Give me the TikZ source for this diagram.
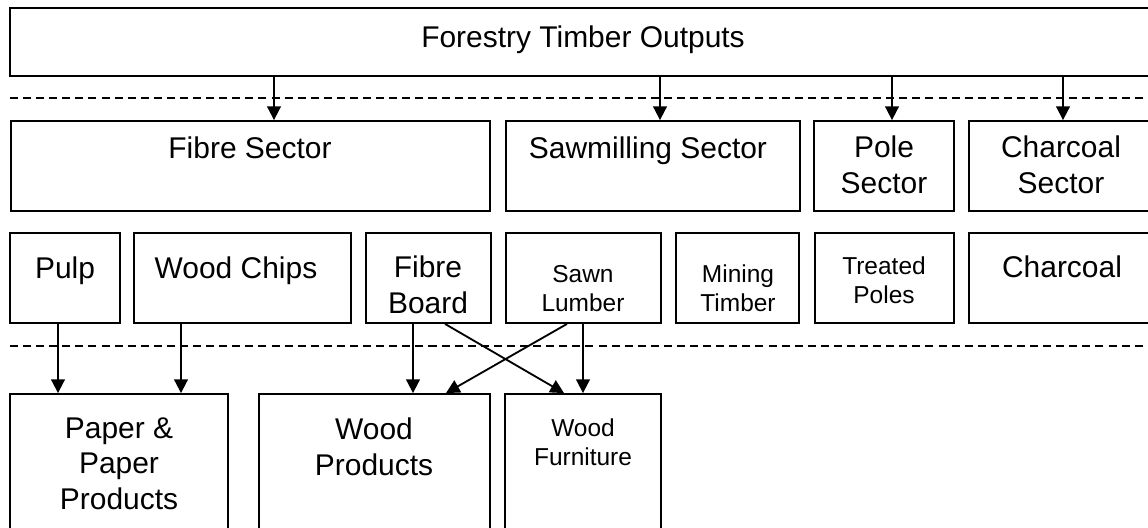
\documentclass[tikz,border=0pt]{standalone}
\usepackage{fontspec}
\setmainfont{Liberation Sans}
\usetikzlibrary{arrows.meta,fit}

\begin{document}
\begin{tikzpicture}[x=0.025cm, y=-0.025cm, line width=1.3pt,
	box/.style={draw, inner sep=0pt},
	big/.style={font=\fontsize{21.3pt}{24.9pt}\selectfont, align=center, anchor=base},
	small/.style={font=\fontsize{17.4pt}{20.6pt}\selectfont, align=center, anchor=base},
	flow/.style={-{Triangle[length=3.4mm,width=3.4mm]}},
	sep/.style={dash pattern=on 5.7pt off 3.6pt}]
	\clip (0,0) rectangle (1148,527);
	% timber outputs
	\node[box, fit={(10,8) (1156,76)}] (outputs) {};
	\node[big] at (583,47) {Forestry Timber Outputs};
	\draw[sep] (10,98) -- (1160,98);
	% sectors
	\node[box, fit={(11,121) (490,211)}] (fibre) {};
	\node[big] at (250,158) {Fibre Sector};
	\node[box, fit={(506,121) (800,211)}] (sawmill) {};
	\node[big] at (648,158) {Sawmilling Sector};
	\node[box, fit={(814,121) (954,211)}] (pole) {};
	\node[big] at (884,193) {Pole\\Sector};
	\node[box, fit={(969,121) (1153,211)}] (charsec) {};
	\node[big] at (1061,193) {Charcoal\\Sector};
	% products
	\node[box, fit={(10,233) (120,323)}] (pulp) {};
	\node[big] at (65,278) {Pulp};
	\node[box, fit={(134,233) (351,323)}] (chips) {};
	\node[big] at (236,278) {Wood Chips};
	\node[box, fit={(366,233) (491,323)}] (board) {};
	\node[big] at (428,313) {Fibre\\Board};
	\node[box, fit={(506,233) (661,323)}] (lumber) {};
	\node[small] at (583,311) {Sawn\\Lumber};
	\node[box, fit={(676,233) (799,323)}] (mining) {};
	\node[small] at (738,311) {Mining\\Timber};
	\node[box, fit={(815,233) (954,323)}] (poles) {};
	\node[small] at (884,303) {Treated\\Poles};
	\node[box, fit={(969,233) (1153,323)}] (charcoal) {};
	\node[big] at (1062,277) {Charcoal};
	\draw[sep] (10,346) -- (1160,346);
	% end uses
	\node[box, fit={(10,394) (228,545)}] (paper) {};
	\node[big] at (119,509) {Paper \&\\Paper\\Products};
	\node[box, fit={(259,394) (490,545)}] (woodprod) {};
	\node[big] at (374,475) {Wood\\Products};
	\node[box, fit={(505,394) (661,545)}] (furniture) {};
	\node[small] at (583,465) {Wood\\Furniture};
	% arrows
	\draw[flow] (274,0 |- outputs.south) -- (274,0 |- fibre.north);
	\draw[flow] (660,0 |- outputs.south) -- (660,0 |- sawmill.north);
	\draw[flow] (892,0 |- outputs.south) -- (892,0 |- pole.north);
	\draw[flow] (1063,0 |- outputs.south) -- (1063,0 |- charsec.north);
	\draw[flow] (58,0 |- pulp.south) -- (58,0 |- paper.north);
	\draw[flow] (181,0 |- chips.south) -- (181,0 |- paper.north);
	\draw[flow] (413,0 |- board.south) -- (413,0 |- woodprod.north);
	\draw[flow] (583,0 |- lumber.south) -- (583,0 |- furniture.north);
	\draw[flow] (445,0 |- board.south) -- (564,0 |- furniture.north);
	\draw[flow] (567,0 |- lumber.south) -- (446,0 |- woodprod.north);
\end{tikzpicture}
\end{document}
